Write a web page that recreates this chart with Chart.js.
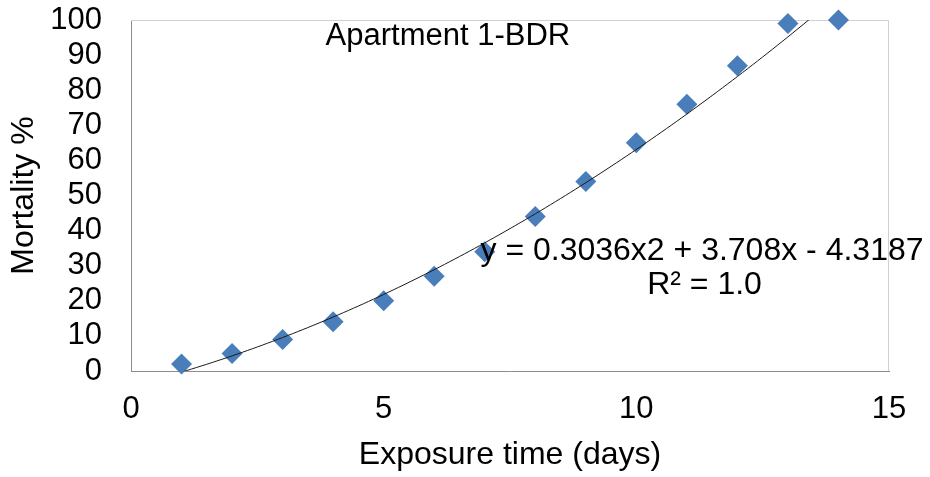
<!DOCTYPE html>
<html>
<head>
<meta charset="utf-8">
<script src="https://cdn.jsdelivr.net/npm/chart.js@4"></script>
<style>
  body { margin: 0; background: #fff; }
  #wrap { width: 930px; height: 477px; }
</style>
</head>
<body>
<div id="wrap"><canvas id="mortality"></canvas></div>
<script>
// exposure days and mortality
const days = [1, 2, 3, 4, 5, 6, 7, 8, 9, 10, 11, 12, 13, 14];
const mortality = [2, 5, 9, 14, 20, 27, 34, 44, 54, 65, 76, 87, 99, 100];

// polynomial trendline as printed on the chart: a*x^2 + b*x + c
const trendCoef = [0.3036, 3.708, -4.3187];
const xTicks = [0, 5, 10, 15];
const yTicks = [0, 10, 20, 30, 40, 50, 60, 70, 80, 90, 100];

const font = 'Liberation Sans, Arial, sans-serif';

function trendPoints() {
    const pts = [];
    for (let i = 0; i <= 130; i++) {
        const x = days[0] + i * 0.1;
        pts.push({ x: x, y: trendCoef[0] * x * x + trendCoef[1] * x + trendCoef[2] });
    }
    return pts;
}

// plot box + texts written inside the plot
const plotExtras = {
    id: 'plotExtras',
    beforeDatasetsDraw(chart) {
        const { ctx, chartArea: a } = chart;
        ctx.save();
        ctx.strokeStyle = '#d0d0d0';
        ctx.lineWidth = 1;
        ctx.beginPath();
        ctx.moveTo(a.left, a.top + 0.5);
        ctx.lineTo(a.right - 0.5, a.top + 0.5);
        ctx.lineTo(a.right - 0.5, a.bottom);
        ctx.stroke();
        ctx.restore();
    },
    afterDraw(chart) {
        const { ctx } = chart;
        const xs = chart.scales.x, ys = chart.scales.y;
        ctx.save();
        ctx.fillStyle = '#000';
        ctx.textBaseline = 'middle';
        ctx.textAlign = 'left';
        ctx.font = '31px ' + font;
        ctx.fillText('Apartment 1-BDR', xs.getPixelForValue(3.85), ys.getPixelForValue(95.3));
        ctx.textAlign = 'center';
        ctx.font = '32px ' + font;
        ctx.fillText('y = 0.3036x2 + 3.708x - 4.3187', xs.getPixelForValue(11.3), ys.getPixelForValue(34));
        ctx.fillText('R² = 1.0', xs.getPixelForValue(11.35), ys.getPixelForValue(24.5));
        ctx.restore();
    }
};

const ctx = document.getElementById('mortality').getContext('2d');
new Chart(ctx, {
    type: 'scatter',
    data: {
        datasets: [
            {
                label: 'Mortality',
                data: days.map((d, i) => ({ x: d, y: mortality[i] })),
                pointStyle: 'rectRot',
                pointRadius: 10.5,
                pointBackgroundColor: '#4a7ebb',
                pointBorderColor: '#4a7ebb',
                pointBorderWidth: 0,
                clip: false,
                order: 1
            },
            {
                label: 'Poly. trend',
                data: trendPoints(),
                showLine: true,
                pointRadius: 0,
                borderColor: '#1a1a1a',
                borderWidth: 1,
                order: 0
            }
        ]
    },
    options: {
        responsive: true,
        maintainAspectRatio: false,
        animation: false,
        layout: { padding: { top: 20, right: 41, left: 0, bottom: 0 } },
        plugins: {
            legend: { display: false },
            tooltip: { enabled: false }
        },
        scales: {
            x: {
                type: 'linear',
                min: 0, max: 15,
                afterBuildTicks: s => { s.ticks = xTicks.map(v => ({ value: v })); },
                afterFit: s => { s.height = 106; s.paddingLeft = 0; s.paddingRight = 0; },
                grid: { display: false, drawTicks: false },
                border: { display: true, color: '#8c8c8c', width: 1 },
                ticks: { color: '#000', padding: 20, autoSkip: false, maxRotation: 0, font: { family: font, size: 31 } },
                title: {
                    display: true,
                    text: 'Exposure time (days)',
                    color: '#000',
                    font: { family: font, size: 32 },
                    padding: { top: 0, bottom: 3 }
                }
            },
            y: {
                type: 'linear',
                min: 0, max: 100,
                afterBuildTicks: s => { s.ticks = yTicks.map(v => ({ value: v })); },
                afterFit: s => { s.width = 131; s.paddingTop = 0; s.paddingBottom = 0; },
                grid: { display: false, drawTicks: false },
                border: { display: true, color: '#8c8c8c', width: 1 },
                ticks: { color: '#000', padding: 29, autoSkip: false, font: { family: font, size: 31 } },
                title: {
                    display: true,
                    text: 'Mortality %',
                    color: '#000',
                    font: { family: font, size: 32 },
                    padding: { top: 5, bottom: 0 }
                }
            }
        }
    },
    plugins: [plotExtras]
});
</script>
</body>
</html>
